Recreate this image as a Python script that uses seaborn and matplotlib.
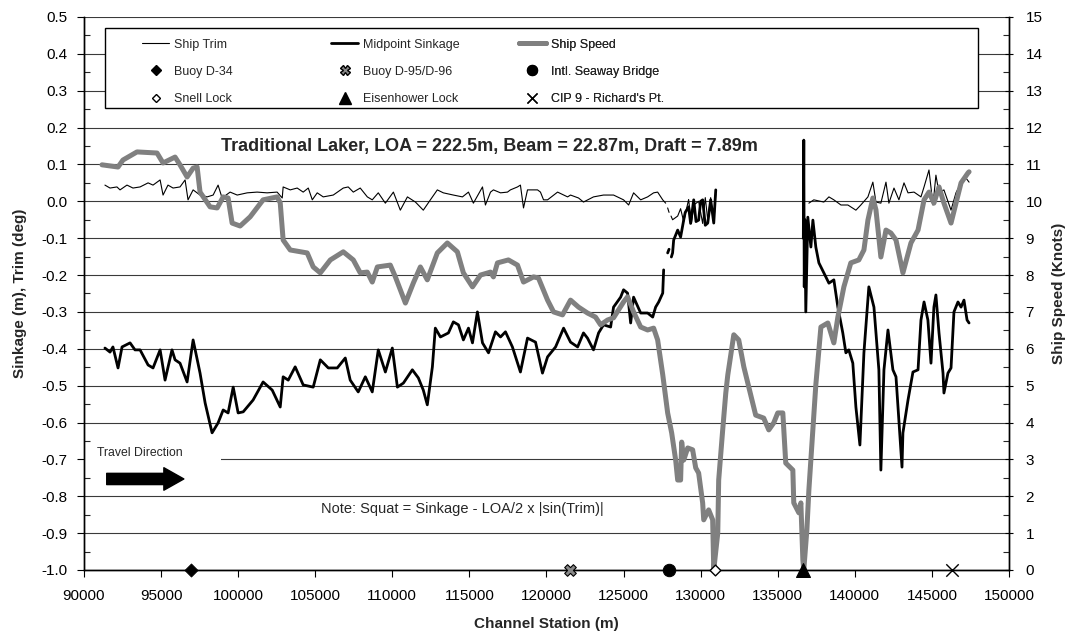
import numpy as np
import matplotlib
matplotlib.use("Agg")
import matplotlib.pyplot as plt
import seaborn as sns
from matplotlib.lines import Line2D
from matplotlib.patches import Rectangle
from matplotlib.ticker import MultipleLocator, FormatStrFormatter

nan = np.nan

# ---------------- data ----------------
# Ship speed (knots, right axis)
speed_station = [91170, 92210, 92530, 93440, 94740, 95130, 95910, 96230, 96690, 97080,
                 97340, 97530, 98180, 98640, 99030, 99350, 99610, 100130, 100780, 101620,
                 102530, 102730, 102920, 103380, 104480, 104870, 105330, 105980, 106820, 107470,
                 107920, 108380, 108700, 109030, 109870, 110200, 110850, 111370, 111820, 112270,
                 112920, 113570, 114220, 114610, 115200, 115720, 116370, 116560, 116820, 117530,
                 118120, 118510, 119160, 119480, 120070, 120460, 121040, 121560, 122080, 122660,
                 123180, 123510, 123960, 124350, 125000, 125260, 125650, 126110, 126560, 126950,
                 127210, 127540, 127860, 127990, 128120, 128380, 128510, 128700, 128770, 128900,
                 129160, 129480, 129680, 129870, 130130, 130200, 130520, 130780, 130850, 131110,
                 131170, 131430, 131630, 131760, 132150, 132470, 132800, 133250, 133570, 134090,
                 134420, 134740, 135000, 135330, 135520, 135980, 136040, 136370, 136500, 136630,
                 136690, 136890, 137020, 137280, 137470, 137800, 138250, 138640, 138900, 139290,
                 139740, 140260, 140590, 140850, 141170, 141370, 141690, 142020, 142340, 142670,
                 143120, 143640, 144100, 144490, 144810, 145130, 145460, 145780, 146240, 146560,
                 146890, 147340, 147410]
speed_knots = [10.99, 10.93, 11.12, 11.34, 11.31, 11.04, 11.20, 10.99, 10.66, 10.90,
               10.93, 10.25, 9.85, 9.82, 10.12, 10.09, 9.41, 9.33, 9.58, 10.04,
               10.12, 9.96, 8.95, 8.68, 8.60, 8.22, 8.06, 8.41, 8.63, 8.41,
               8.06, 8.08, 7.81, 8.22, 8.27, 7.95, 7.24, 7.79, 8.22, 7.87,
               8.60, 8.87, 8.63, 8.06, 7.68, 8.00, 8.08, 7.95, 8.33, 8.41,
               8.27, 7.81, 7.95, 7.92, 7.32, 7.00, 6.92, 7.32, 7.13, 6.97,
               6.86, 6.65, 6.78, 6.84, 7.27, 7.41, 7.00, 6.59, 6.51, 6.56,
               6.24, 5.30, 4.26, 3.99, 3.72, 2.98, 2.44, 2.44, 3.47, 2.98,
               3.31, 3.26, 2.77, 2.63, 1.82, 1.36, 1.63, 1.36, 0.0, 1.00,
               2.44, 3.80, 4.80, 5.29, 6.38, 6.24, 5.51, 4.75, 4.20, 4.12,
               3.80, 3.99, 4.26, 4.26, 2.90, 2.71, 1.82, 1.55, 1.82, 0.27,
               0.0, 1.09, 2.17, 3.80, 5.02, 6.59, 6.70, 6.16, 6.86, 7.68,
               8.33, 8.41, 8.68, 9.49, 10.09, 9.77, 8.49, 9.22, 9.14, 8.95,
               8.06, 8.87, 9.22, 10.04, 10.25, 9.95, 10.39, 9.95, 9.41, 9.95,
               10.50, 10.77, 10.80]

# Midpoint sinkage (m, left axis) - three recorded stretches
sink_station_a = [91360, 91690, 91880, 92210, 92470, 92990, 93310, 93640, 94160, 94480,
                  94940, 95260, 95710, 95910, 96230, 96690, 97080, 97530, 97860, 98310,
                  98700, 99030, 99350, 99680, 100000, 100330, 100970, 101620, 102210, 102730,
                  102920, 103250, 103700, 104220, 104870, 105330, 105850, 106430, 106950, 107270,
                  107790, 108250, 108700, 109090, 109550, 110000, 110330, 110720, 111300, 111690,
                  112010, 112270, 112600, 112790, 113120, 113640, 113960, 114290, 114610, 114940,
                  115200, 115520, 115850, 116240, 116690, 117020, 117340, 117790, 118310, 118770,
                  119290, 119740, 120070, 120590, 121110, 121560, 122020, 122400, 122660, 123050,
                  123380, 123700, 124160, 124350, 124810, 125000, 125260, 125460, 125650, 126110,
                  126560, 126890, 127080, 127280, 127540, 127600]
sink_m_a = [-0.398, -0.409, -0.395, -0.452, -0.395, -0.384, -0.403, -0.403, -0.444, -0.452,
            -0.403, -0.485, -0.403, -0.430, -0.439, -0.490, -0.376, -0.466, -0.547, -0.628,
            -0.601, -0.566, -0.574, -0.504, -0.574, -0.571, -0.539, -0.490, -0.512, -0.558,
            -0.476, -0.485, -0.449, -0.498, -0.504, -0.430, -0.452, -0.452, -0.425, -0.485,
            -0.517, -0.476, -0.517, -0.403, -0.463, -0.398, -0.504, -0.493, -0.457, -0.479,
            -0.512, -0.552, -0.449, -0.344, -0.368, -0.357, -0.327, -0.335, -0.376, -0.344,
            -0.384, -0.300, -0.384, -0.411, -0.354, -0.368, -0.354, -0.395, -0.463, -0.371,
            -0.382, -0.466, -0.422, -0.395, -0.344, -0.382, -0.395, -0.357, -0.371, -0.403,
            -0.357, -0.335, -0.341, -0.287, -0.260, -0.240, -0.249, -0.330, -0.260, -0.303,
            -0.303, -0.314, -0.287, -0.273, -0.249, -0.186]
sink_station_b = [127860, 127950, nan, 128100, 128180, 128250, 128510, 128700, 128900, 129000,
                  129220, 129350, 129550, 129700, 129870, 130000, 130130, 130300, 130460, 130650,
                  130850, 130980]
sink_m_b = [-0.140, -0.130, nan, -0.151, -0.140, -0.105, -0.078, -0.097, -0.051, -0.030,
            -0.015, -0.060, 0.004, -0.055, -0.051, 0.000, 0.004, -0.065, -0.059, 0.004,
            -0.059, 0.031]
sink_station_c = [136660, 136690, 136720, 136760, 136820, 136950, 137150, 137280, 137470, 137670,
                  137990, 138320, 138640, 138900, 139220, 139420, 139610, 139870, 140070, 140330,
                  140590, 140910, 141240, 141560, 141690, 141890, 142150, 142470, 142670, 143060,
                  143120, 143450, 143770, 144100, 144290, 144490, 144740, 144940, 145130, 145260,
                  145460, 145720, 145780, 146040, 146240, 146430, 146690, 146890, 147080, 147280,
                  147410]
sink_m_c = [-0.10, 0.166, -0.232, -0.05, -0.300, -0.043, -0.124, -0.051, -0.124, -0.167,
            -0.194, -0.222, -0.213, -0.287, -0.357, -0.411, -0.403, -0.439, -0.558, -0.661,
            -0.411, -0.232, -0.287, -0.457, -0.729, -0.457, -0.349, -0.457, -0.476, -0.721,
            -0.628, -0.539, -0.463, -0.457, -0.322, -0.273, -0.322, -0.439, -0.287, -0.254,
            -0.357, -0.466, -0.520, -0.466, -0.452, -0.300, -0.273, -0.287, -0.268, -0.322,
            -0.330]

# Ship trim (deg, left axis)
trim_station_a = [91360, 91690, 92140, 92340, 92790, 93180, 93640, 94160, 94480, 94940,
                  95130, 95450, 95780, 96230, 96560, 96750, 97080, 97530, 97990, 98380,
                  98700, 98960, 99480, 99940, 100590, 101230, 101880, 102530, 102860, 102920,
                  103380, 103830, 104220, 104550, 104810, 105130, 105520, 106170, 106820, 107140,
                  107470, 107920, 108380, 108700, 109090, 109550, 110070, 110520, 110980, 111500,
                  112010, 112470, 112920, 113310, 113960, 114550, 114940, 115260, 115850, 116040,
                  116370, 116560, 117020, 117470, 117660, 118120, 118310, 118510, 118770, 118960,
                  119420, 119610, 119810, 120070, 120720, 121370, 121560, 122080, 122400, 123050,
                  123700, 124350, 125000, 125330, 125650, 126110, 126560, 126950, 127210, 127540,
                  127730]
trim_deg_a = [0.044, 0.036, 0.039, 0.031, 0.044, 0.036, 0.039, 0.050, 0.044, 0.058,
              0.017, 0.044, 0.036, 0.039, 0.058, 0.004, 0.031, 0.017, 0.012, 0.017,
              0.044, 0.009, 0.025, 0.017, 0.023, 0.025, 0.023, 0.025, 0.009, 0.039,
              0.031, 0.036, 0.025, 0.036, 0.004, 0.023, 0.012, 0.017, 0.036, 0.039,
              0.025, 0.036, 0.012, 0.004, 0.023, -0.005, 0.025, -0.024, 0.012, -0.002,
              -0.024, 0.004, 0.031, 0.023, 0.017, 0.012, 0.025, -0.005, 0.039, -0.010,
              0.025, 0.031, 0.023, 0.025, 0.031, 0.039, 0.044, -0.018, 0.031, 0.031,
              0.031, 0.025, 0.004, 0.004, 0.025, 0.012, 0.017, 0.009, -0.002, 0.012,
              0.017, 0.017, 0.004, -0.010, 0.023, 0.004, 0.012, 0.023, 0.025, 0.004,
              -0.005]
trim_station_b = [127860, 127950, nan, 128080, 128180, 128510, 128700, 128900, 129220, 129400,
                  129550, 129870, 130130, 130300, 130460, 130650, 130850, 130980]
trim_deg_b = [-0.018, -0.030, nan, -0.040, -0.050, -0.040, -0.020, -0.055, 0.005, -0.060,
              -0.010, 0.000, -0.060, 0.010, -0.050, 0.010, -0.060, 0.020]
trim_station_c = [137020, 137340, 137990, 138320, 138640, 139100, 139550, 140070, 140390, 140850,
                  141170, 141370, 141690, 142020, 142210, 142540, 142860, 143190, 143450, 143840,
                  144290, 144490, 144810, 145070, 145260, 145460, 145780, 146240, 146560, 146890,
                  147210, 147410]
trim_deg_c = [-0.005, 0.004, -0.002, 0.012, 0.004, -0.010, -0.010, -0.024, -0.010, 0.012,
              0.052, -0.002, -0.005, 0.052, -0.005, 0.036, 0.004, 0.050, 0.023, 0.025,
              0.012, 0.039, 0.085, -0.010, 0.071, 0.023, 0.031, -0.024, 0.023, 0.050,
              0.063, 0.052]

# Landmarks along the channel (plotted at the bottom of the chart)
landmark_names = ["Buoy D-34", "Buoy D-95/D-96", "Intl. Seaway Bridge",
                  "Snell Lock", "Eisenhower Lock", "CIP 9 - Richard's Pt."]
landmark_station = [96950, 121500, 127920, 130910, 136630, 146300]

x_ticks = list(range(90000, 150001, 5000))
title_text = "Traditional Laker, LOA = 222.5m, Beam = 22.87m, Draft = 7.89m"
note_text = "Note: Squat = Sinkage - LOA/2 x |sin(Trim)|"

# ---------------- style ----------------
sns.set_style("white")
plt.rcParams["font.family"] = ["Liberation Sans", "DejaVu Sans"]
NARROW = ["Liberation Sans Narrow", "Liberation Sans", "DejaVu Sans"]

GRAY = "#808080"
fig = plt.figure(figsize=(10.75, 6.36), dpi=100)
ax = fig.add_axes([0.0781, 0.1038, 0.8605, 0.8695])
ax2 = ax.twinx()


def draw(axis, xs, ys, **kw):
    xs = np.asarray(xs, float)
    ys = np.asarray(ys, float)
    gaps = np.where(np.isnan(xs))[0]
    for part in np.split(np.arange(len(xs)), gaps):
        part = part[~np.isnan(xs[part])]
        if len(part) >= 2:
            sns.lineplot(x=xs[part], y=ys[part], ax=axis, sort=False,
                         estimator=None, legend=False, **kw)


# lines
for xs, ys in [(trim_station_a, trim_deg_a), (trim_station_b, trim_deg_b),
               (trim_station_c, trim_deg_c)]:
    draw(ax, xs, ys, color="black", linewidth=0.8)
for xs, ys in [(sink_station_a, sink_m_a), (sink_station_b, sink_m_b),
               (sink_station_c, sink_m_c)]:
    draw(ax, xs, ys, color="black", linewidth=2.0)
draw(ax2, speed_station, speed_knots, color=GRAY, linewidth=3.6)

# landmark markers at the bottom (0 knots == -1.0 m)
marker_styles = [
    dict(marker="D", color="black", s=45, edgecolor="black"),
    dict(marker="X", color="#888888", s=70, edgecolor="black", linewidth=0.8),
    dict(marker="o", color="black", s=80, edgecolor="black"),
    dict(marker="D", color="white", s=30, edgecolor="black", linewidth=1.0),
    dict(marker="^", color="black", s=100, edgecolor="black"),
    dict(marker="x", color="black", s=80, linewidth=1.0),
]
for st, style in zip(landmark_station, marker_styles):
    sns.scatterplot(x=[st], y=[0.0], ax=ax2, clip_on=False, zorder=6, legend=False, **style)

# axes limits / ticks
ax.set_xlim(90000, 150000)
ax.set_ylim(-1.0, 0.5)
ax2.set_ylim(0, 15)
ax.set_xticks(x_ticks)
ax.set_xticklabels([str(t) for t in x_ticks])
ax.set_yticks(np.arange(-10, 6) / 10)
ax.yaxis.set_major_formatter(FormatStrFormatter("%.1f"))
ax.yaxis.set_minor_locator(MultipleLocator(0.05))
ax2.set_yticks(range(0, 16))
ax2.yaxis.set_minor_locator(MultipleLocator(0.5))

ax.tick_params(axis="y", which="major", direction="out", length=5, width=0.8,
               labelsize=11, pad=7, left=True, colors="black")
ax.tick_params(axis="y", which="minor", direction="in", length=4, width=0.8, left=True)
ax.tick_params(axis="x", which="major", direction="out", length=5, width=0.8,
               labelsize=11, pad=9, bottom=True, colors="black")
ax2.tick_params(axis="y", which="major", direction="inout", length=6, width=0.8,
                labelsize=11, pad=9, right=True, colors="black")
ax2.tick_params(axis="y", which="minor", direction="in", length=4, width=0.8, right=True)

ax.set_axisbelow(True)
ax.yaxis.grid(True, which="major", color="#3a3a3a", linewidth=0.8)
ax.xaxis.grid(False)
ax2.grid(False)

for a in (ax, ax2):
    a.spines["top"].set_visible(False)
    for s in ("left", "right", "bottom"):
        a.spines[s].set_color("black")
        a.spines[s].set_linewidth(1.0)

ax.set_xlabel("Channel Station (m)", fontsize=11, fontweight="bold")
ax.set_ylabel("Sinkage (m), Trim (deg)", fontsize=11, fontweight="bold")
ax2.set_ylabel("Ship Speed (Knots)", fontsize=11, fontweight="bold")
ax.xaxis.set_label_coords(0.5, -0.085)
ax.yaxis.set_label_coords(-0.062, 0.5)
ax2.yaxis.set_label_coords(1.047, 0.5)

# legend frame + three legend columns
ax.add_patch(Rectangle((0.0227, 0.8354), 0.9438, 0.1446, transform=ax.transAxes,
                       facecolor="white", edgecolor="black", linewidth=1.0, zorder=3))
h_trim = Line2D([], [], color="black", linewidth=0.8)
h_sink = Line2D([], [], color="black", linewidth=2.0)
h_speed = Line2D([], [], color=GRAY, linewidth=3.6)
h_mk = [Line2D([], [], linestyle="none", marker=st["marker"],
               markerfacecolor=st["color"], markeredgecolor=st.get("edgecolor", "black"),
               color=st["color"] if st["marker"] != "x" else "black",
               markersize=np.sqrt(st["s"]) * 0.8) for st in marker_styles]
columns = [
    ([h_trim, h_mk[0], h_mk[3]], ["Ship Trim", landmark_names[0], landmark_names[3]], 0.0627),
    ([h_sink, h_mk[1], h_mk[4]], ["Midpoint Sinkage", landmark_names[1], landmark_names[4]], 0.267),
    ([h_speed, h_mk[2], h_mk[5]], ["Ship Speed", landmark_names[2], landmark_names[5]], 0.470),
]
for handles, labels, x0 in columns:
    leg = ax.legend(handles, labels, loc="upper left", bbox_to_anchor=(x0, 0.961),
                    bbox_transform=ax.transAxes, frameon=False, borderpad=0,
                    borderaxespad=0, handlelength=2.2, handletextpad=0.35,
                    labelspacing=1.22, prop=dict(family=NARROW, size=9))
    leg.set_zorder(4)
    ax.add_artist(leg)

# annotations
ax.text(0.438, 0.765, title_text, transform=ax.transAxes, ha="center", va="center",
        fontsize=13, fontweight="bold", zorder=5)
ax.add_patch(Rectangle((0.0, 0.188), 0.148, 0.0416, transform=ax.transAxes,
                       facecolor="white", edgecolor="none", zorder=1))
ax.text(0.014, 0.2116, "Travel Direction", transform=ax.transAxes, ha="left", va="center",
        fontsize=8.8, family=NARROW, zorder=5)
ax.annotate("", xy=(0.111, 0.1646), xytext=(0.0216, 0.1646), xycoords="axes fraction",
            textcoords="axes fraction",
            arrowprops=dict(arrowstyle="simple,head_length=0.8,head_width=0.9,tail_width=0.45",
                            mutation_scale=18, facecolor="black", edgecolor="black"))
ax.text(0.4086, 0.110, note_text, transform=ax.transAxes, ha="center", va="center",
        fontsize=10.5, family=NARROW, zorder=5)

fig.savefig("out.png", dpi=100)
